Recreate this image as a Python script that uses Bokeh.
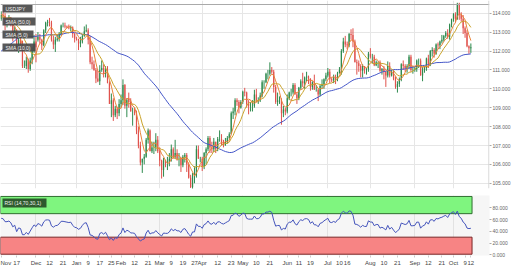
import pandas as pd
from bokeh.plotting import figure
from bokeh.layouts import column
from bokeh.models import Range1d, FixedTicker, PrintfTickFormatter, Span, Label
from bokeh.core.properties import value
from bokeh.embed import file_html
from bokeh.resources import INLINE

# ---------------- data (USDJPY daily, Nov 7 2017 .. Oct 12 2018) ----------------
warmup_closes = [
    109.70, 110.25, 109.95, 110.25, 109.70, 108.75, 109.20, 108.45, 107.85, 109.40,
    110.15, 110.50, 110.25, 110.85, 111.55, 111.60, 112.25, 112.50, 111.95, 111.70,
    111.95, 112.75, 112.30, 112.50, 112.75, 112.85, 112.75, 112.75, 112.60, 112.65,
    112.40, 112.50, 112.30, 111.80, 112.20, 112.20, 112.90, 112.55, 113.50, 113.45,
    113.20, 113.70, 114.10, 113.70, 113.20, 113.65, 113.90, 114.05, 114.05, 113.70,
]

opens = [
    113.70, 113.90, 113.85, 113.50, 113.50, 113.60, 113.40, 112.90, 113.10, 112.10,
    112.60, 112.50, 111.20, 111.20, 111.50, 111.05, 111.50, 112.00, 112.50, 112.60,
    112.75, 112.60, 112.30, 113.10, 113.50, 113.55, 113.50, 112.60, 112.35, 112.60,
    112.65, 112.90, 113.35, 113.35, 113.30, 113.25, 113.20, 113.25, 112.90, 112.65,
    112.60, 112.40, 112.50, 112.80, 113.05, 113.10, 112.60, 111.40, 111.30, 111.00,
    110.55, 110.40, 111.00, 111.10, 110.80, 111.00, 110.30, 109.20, 109.40, 108.60,
    108.95, 108.70, 109.20, 109.40, 110.20, 109.10, 109.50, 109.30, 108.80, 108.80,
    108.70, 107.80, 107.00, 106.10, 106.30, 106.40, 107.30, 107.80, 106.70, 106.90,
    106.90, 107.30, 106.70, 106.20, 105.70, 106.20, 106.10, 106.10, 106.30, 106.80,
    106.40, 106.60, 106.30, 106.30, 105.95, 106.40, 106.50, 106.00, 105.30, 104.80,
    105.40, 105.40, 106.80, 106.30, 106.30, 105.90, 106.60, 106.80, 107.40, 106.90,
    106.80, 107.20, 106.80, 107.35, 107.35, 107.10, 107.00, 107.20, 107.40, 107.60,
    108.70, 108.80, 109.40, 109.30, 109.00, 109.30, 109.85, 109.80, 109.20, 109.10,
    109.10, 109.10, 109.70, 109.40, 109.40, 109.65, 110.35, 110.35, 110.80, 110.80,
    111.00, 110.90, 110.10, 109.30, 109.40, 109.40, 108.70, 108.90, 108.80, 109.50,
    109.80, 109.80, 110.20, 109.70, 109.50, 110.05, 110.40, 110.30, 110.60, 110.65,
    110.55, 110.10, 110.35, 109.95, 109.95, 109.70, 110.15, 110.25, 110.50, 110.70,
    110.90, 110.50, 110.45, 110.60, 110.50, 110.85, 111.00, 112.00, 112.50, 112.35,
    112.30, 112.90, 112.85, 112.50, 111.40, 111.35, 111.20, 110.95, 111.20, 111.05,
    111.05, 111.85, 111.70, 111.70, 111.25, 111.40, 111.40, 110.95, 111.05, 110.90,
    110.70, 111.20, 110.70, 110.90, 110.50, 110.10, 110.25, 110.50, 111.30, 111.20,
    111.10, 111.20, 111.70, 111.00, 111.00, 111.05, 111.50, 111.50, 110.70, 111.00,
    111.10, 111.60, 111.30, 112.00, 112.05, 111.85, 112.35, 112.30, 112.50, 112.60,
    112.80, 112.95, 112.75, 113.40, 113.70, 113.95, 113.70, 114.50, 113.90, 113.70,
    113.20, 112.95, 112.25, 112.15,
]
highs = [
    114.10, 114.10, 114.00, 113.65, 113.90, 113.80, 113.45, 113.30, 113.15, 112.70,
    112.70, 112.55, 111.50, 111.70, 111.60, 111.65, 112.20, 112.85, 112.90, 113.00,
    112.90, 112.65, 113.15, 113.55, 113.65, 113.75, 113.60, 112.80, 112.75, 112.85,
    113.00, 113.40, 113.50, 113.50, 113.35, 113.40, 113.35, 113.30, 112.95, 112.75,
    112.65, 112.75, 112.90, 113.30, 113.40, 113.20, 112.80, 111.70, 111.50, 111.10,
    110.95, 111.25, 111.50, 111.30, 111.20, 111.20, 110.40, 109.75, 109.50, 109.10,
    109.05, 109.45, 109.70, 110.50, 110.25, 109.40, 109.80, 109.50, 109.00, 109.00,
    108.85, 108.00, 107.20, 106.30, 106.55, 107.40, 107.90, 107.85, 107.20, 107.20,
    107.65, 107.50, 106.90, 106.25, 106.35, 106.25, 106.40, 106.60, 107.05, 106.90,
    107.30, 106.80, 106.60, 106.40, 106.50, 106.60, 106.60, 106.10, 105.45, 105.55,
    105.90, 107.00, 107.00, 106.40, 106.40, 106.65, 106.90, 107.50, 107.50, 107.20,
    107.40, 107.20, 107.45, 107.80, 107.60, 107.30, 107.40, 107.50, 107.70, 108.80,
    109.00, 109.50, 109.50, 109.40, 109.40, 109.90, 110.05, 109.85, 109.40, 109.30,
    109.40, 109.95, 110.00, 109.55, 109.80, 110.45, 110.45, 110.85, 111.00, 111.40,
    111.15, 111.00, 110.20, 109.80, 109.60, 109.50, 109.10, 109.00, 109.70, 109.85,
    110.00, 110.30, 110.30, 109.80, 110.10, 110.50, 110.85, 110.65, 110.90, 110.70,
    110.55, 110.40, 110.75, 110.20, 110.00, 110.20, 110.50, 110.55, 110.85, 111.10,
    111.05, 110.60, 110.75, 110.75, 110.90, 111.15, 112.10, 112.70, 112.80, 112.50,
    112.95, 113.15, 113.20, 112.60, 111.55, 111.50, 111.30, 111.30, 111.20, 111.10,
    111.95, 112.15, 111.85, 111.80, 111.50, 111.45, 111.50, 111.10, 111.20, 110.95,
    111.45, 111.40, 111.00, 111.00, 110.65, 110.40, 110.60, 111.35, 111.50, 111.30,
    111.30, 111.80, 111.80, 111.20, 111.15, 111.55, 111.60, 111.60, 111.15, 111.20,
    111.65, 111.80, 112.05, 112.20, 112.15, 112.40, 112.45, 112.55, 112.85, 112.85,
    113.05, 113.15, 113.45, 113.70, 114.00, 114.05, 114.55, 114.55, 114.05, 113.90,
    113.30, 113.10, 112.30, 112.40,
]
lows = [
    113.60, 113.75, 113.10, 113.25, 113.40, 113.30, 112.50, 112.75, 112.00, 111.90,
    112.30, 111.10, 111.10, 111.05, 110.85, 110.95, 111.30, 111.90, 111.40, 112.50,
    112.40, 112.05, 112.25, 112.95, 113.30, 113.30, 112.50, 112.10, 111.95, 112.50,
    112.50, 112.80, 113.25, 113.20, 113.20, 113.15, 113.05, 112.70, 112.45, 112.55,
    112.05, 112.20, 112.40, 112.75, 113.00, 112.35, 111.30, 111.05, 110.95, 110.30,
    110.35, 110.20, 110.90, 110.60, 110.60, 110.30, 109.20, 108.50, 108.30, 108.50,
    108.40, 108.55, 109.00, 109.15, 108.95, 108.50, 109.00, 108.80, 108.05, 108.60,
    107.60, 106.85, 105.95, 105.55, 106.00, 106.35, 107.10, 106.70, 106.60, 106.55,
    106.70, 106.60, 105.90, 105.25, 105.35, 105.85, 105.70, 105.90, 106.15, 106.30,
    106.30, 106.20, 105.90, 105.60, 105.85, 106.10, 105.60, 105.25, 104.75, 104.70,
    105.00, 105.30, 106.30, 106.10, 105.65, 105.75, 106.00, 106.70, 106.60, 106.60,
    106.65, 106.60, 106.70, 107.20, 107.00, 106.90, 107.00, 107.10, 107.30, 107.60,
    108.40, 108.60, 109.10, 108.70, 108.95, 109.20, 109.60, 109.00, 108.65, 108.80,
    108.80, 109.00, 109.30, 109.20, 109.30, 109.55, 110.00, 110.30, 110.50, 110.70,
    110.80, 109.80, 109.20, 109.10, 109.20, 108.10, 108.50, 108.60, 108.70, 109.40,
    109.60, 109.70, 109.70, 109.20, 109.40, 109.95, 110.10, 110.00, 110.40, 110.25,
    109.90, 109.95, 109.95, 109.85, 109.35, 109.60, 110.00, 110.00, 110.40, 110.60,
    110.30, 110.35, 110.30, 110.25, 110.40, 110.80, 110.75, 111.90, 112.20, 112.10,
    112.20, 112.60, 112.20, 111.40, 110.75, 110.90, 110.60, 110.60, 110.80, 110.75,
    110.90, 111.60, 111.35, 111.20, 111.20, 111.10, 110.90, 110.75, 110.50, 110.10,
    110.60, 110.60, 110.65, 110.45, 110.00, 109.80, 110.10, 110.40, 111.00, 110.90,
    110.85, 111.05, 110.90, 110.80, 110.90, 110.90, 111.10, 110.70, 110.40, 110.85,
    110.95, 111.10, 111.20, 111.70, 111.65, 111.80, 112.10, 112.10, 112.40, 112.50,
    112.70, 112.65, 112.60, 113.25, 113.55, 113.50, 113.65, 113.65, 113.55, 112.90,
    112.70, 112.20, 111.85, 111.90,
]
closes = [
    113.90, 113.85, 113.50, 113.50, 113.60, 113.40, 112.90, 113.10, 112.10, 112.60,
    112.50, 111.20, 111.20, 111.50, 111.05, 111.50, 112.00, 112.50, 112.20, 112.75,
    112.60, 112.30, 113.10, 113.50, 113.55, 113.50, 112.60, 112.35, 112.60, 112.65,
    112.90, 113.35, 113.35, 113.30, 113.25, 113.20, 113.25, 112.90, 112.65, 112.60,
    112.40, 112.50, 112.80, 113.05, 113.10, 112.60, 111.40, 111.30, 111.00, 110.55,
    110.40, 111.00, 111.10, 110.80, 111.00, 110.30, 109.20, 109.40, 108.60, 108.95,
    108.70, 109.20, 109.40, 110.20, 109.10, 109.50, 109.30, 108.80, 108.80, 108.70,
    107.80, 107.00, 106.10, 106.30, 106.40, 107.30, 107.80, 106.70, 106.90, 106.90,
    107.30, 106.70, 106.20, 105.70, 106.20, 106.10, 106.10, 106.30, 106.80, 106.40,
    106.60, 106.30, 106.30, 105.95, 106.40, 106.50, 106.00, 105.30, 104.80, 105.40,
    105.40, 106.80, 106.30, 106.30, 105.90, 106.60, 106.80, 107.40, 106.90, 106.80,
    107.20, 106.80, 107.35, 107.35, 107.10, 107.00, 107.20, 107.40, 107.60, 108.70,
    108.80, 109.40, 109.30, 109.00, 109.30, 109.85, 109.80, 109.20, 109.10, 109.10,
    109.10, 109.70, 109.40, 109.40, 109.65, 110.35, 110.35, 110.80, 110.80, 111.00,
    110.90, 110.10, 109.30, 109.40, 109.40, 108.70, 108.90, 108.80, 109.50, 109.80,
    109.80, 110.20, 109.70, 109.50, 110.05, 110.40, 110.30, 110.60, 110.65, 110.55,
    110.10, 110.35, 109.95, 109.95, 109.70, 110.15, 110.25, 110.50, 110.70, 110.90,
    110.50, 110.45, 110.60, 110.50, 110.85, 111.00, 112.00, 112.50, 112.35, 112.30,
    112.90, 112.85, 112.50, 111.40, 111.35, 111.20, 110.95, 111.20, 111.05, 111.05,
    111.85, 111.70, 111.70, 111.25, 111.40, 111.40, 110.95, 111.05, 110.90, 110.70,
    111.20, 110.70, 110.90, 110.50, 110.10, 110.25, 110.50, 111.30, 111.20, 111.10,
    111.20, 111.70, 111.00, 111.00, 111.05, 111.50, 111.50, 110.70, 111.00, 111.10,
    111.60, 111.30, 112.00, 112.05, 111.85, 112.35, 112.30, 112.50, 112.60, 112.80,
    112.95, 112.75, 113.40, 113.70, 113.95, 113.70, 114.50, 113.90, 113.70, 113.20,
    112.95, 112.25, 112.15, 112.20,
]

tick_idx = [0, 8, 18, 25, 32, 39, 45, 51, 57, 62, 69, 76, 82, 88, 94, 100, 104, 112,
            119, 125, 132, 139, 148, 154, 160, 169, 175, 179, 191, 198, 205, 214, 221,
            228, 234, 240, 243]
tick_labels = ["Nov", "17", "Dec", "12", "21", "Jan", "9", "17", "25", "Feb", "12", "21",
               "Mar", "9", "19", "27", "Apr", "12", "23", "May", "10", "21", "Jun", "11",
               "19", "Jul", "10", "16", "Aug", "10", "21", "Sep", "12", "21", "Oct", "9", "12"]
month_idx = [18, 39, 62, 82, 104, 125, 148, 169, 191, 214, 234]
price_ticks = [105, 106, 107, 108, 109, 110, 111, 112, 113, 114]
rsi_ticks = [0, 20, 40, 60, 80]

# ---------------- indicators ----------------
N = len(closes)
idx = list(range(N))
allc = pd.Series(warmup_closes + closes)
sma5 = allc.rolling(5).mean().values[-N:]
sma10 = allc.rolling(10).mean().values[-N:]
sma50 = allc.rolling(50).mean().values[-N:]
d = allc.diff()
g = d.clip(lower=0).ewm(alpha=1 / 14, adjust=False).mean()
l = (-d.clip(upper=0)).ewm(alpha=1 / 14, adjust=False).mean()
rsi = (100 - 100 / (1 + g / l)).values[-N:]

UP, DN = "#2e8a4e", "#e0524d"
cols = [UP if c >= o else DN for o, c in zip(opens, closes)]
tops = [max(o, c) for o, c in zip(opens, closes)]
bots = [min(o, c) for o, c in zip(opens, closes)]

# ---------------- main price panel ----------------
FW, FH = 489, 188
PXU = 1.9328          # pixels per trading day
X0 = -0.363
X1 = X0 + FW / PXU
Y0, Y1 = 104.725, 114.672
FONT = value("Liberation Sans")


def dx(px):
    return X0 + px / FW * (X1 - X0)


def dy(py):
    return Y1 - py / FH * (Y1 - Y0)


def style_right_axis(ax, ticks):
    ax.ticker = FixedTicker(ticks=ticks)
    ax.formatter = PrintfTickFormatter(format="%.3f")
    ax.axis_line_color = None
    ax.major_tick_out = 2
    ax.major_tick_in = 0
    ax.major_tick_line_color = "#aaaaaa"
    ax.minor_tick_line_color = None
    ax.major_label_standoff = 1
    ax.major_label_text_font_size = "5px"
    ax.major_label_text_color = "#666666"
    ax.major_label_text_font = "Liberation Sans"


p = figure(frame_width=FW, frame_height=FH, x_range=Range1d(X0, X1), y_range=Range1d(Y0, Y1),
           output_backend="svg", toolbar_location=None, x_axis_location=None,
           y_axis_location="right", min_border_left=0, min_border_top=0,
           min_border_bottom=6, min_border_right=0, outline_line_color=None,
           background_fill_color="white", border_fill_color="white")
p.ygrid.ticker = FixedTicker(ticks=price_ticks)
p.xgrid.ticker = FixedTicker(ticks=month_idx)
p.grid.grid_line_color = "#e6e6e6"
style_right_axis(p.yaxis[0], price_ticks)

p.add_layout(Span(location=114.46, dimension="width", line_color="#aaaaaa", line_width=1))
p.add_layout(Span(location=X1 - 0.3, dimension="height", line_color="#d0d0d0", line_width=1))

p.segment(x0=idx, y0=lows, x1=idx, y1=highs, line_color=cols, line_width=1)
p.vbar(x=idx, top=tops, bottom=bots, width=0.62, fill_color=cols, line_color=None)

p.line(idx, sma50, line_color="#4456c8", line_width=1)
p.line(idx, sma10, line_color="#c9a22a", line_width=1)
p.line(idx, sma5, line_color="#e8843a", line_width=1)

boxes = [("USDJPY", 2, 32, 4, 12), ("SMA (50,0)", 2, 35, 17, 25),
         ("SMA (5,0)", 2, 33, 30, 38), ("SMA (10,0)", 2, 35, 43, 51)]
for t, l0, r0, t0, b0 in boxes:
    p.quad(left=[dx(l0)], right=[dx(r0)], top=[dy(t0)], bottom=[dy(b0)],
           fill_color="#4a4a4a", fill_alpha=0.92, line_color=None)
    p.text(x=[dx(l0 + 3)], y=[dy((t0 + b0) / 2)], text=[t], text_font=FONT,
           text_font_size="5px", text_color="#f2f2f2", text_baseline="middle",
           text_align="left")

p.add_layout(Label(x=dx(246), y=Y0, y_offset=-4, text="▬", text_font_size="6px",
                   text_color="#b0b0b0", text_align="center", text_baseline="middle"))

# ---------------- RSI panel ----------------
RH = 60
RY0, RY1 = -1.2, 100.9


def ry(py):
    return RY1 - py / RH * (RY1 - RY0)


r = figure(frame_width=FW, frame_height=RH, x_range=p.x_range, y_range=Range1d(RY0, RY1),
           output_backend="svg", toolbar_location=None, y_axis_location="right",
           min_border_left=0, min_border_top=1, min_border_bottom=12, min_border_right=0,
           outline_line_color=None, background_fill_color="#f6f6f6",
           border_fill_color="white")
r.ygrid.grid_line_color = None
r.xgrid.ticker = FixedTicker(ticks=month_idx)
r.xgrid.grid_line_color = "#e2e2e2"

r.quad(left=[X0], right=[243.6], bottom=[70], top=[99.3], fill_color="#7ff57f",
       line_color="#2f6e2f", line_width=1)
r.quad(left=[X0], right=[243.6], bottom=[1.0], top=[30], fill_color="#f78484",
       line_color="#7a2626", line_width=1)
r.line(idx, rsi, line_color="#4454bb", line_width=1)

r.quad(left=[dx(2)], right=[dx(46)], top=[ry(3)], bottom=[ry(12)],
       fill_color="#2d5a2d", line_color=None)
r.text(x=[dx(4)], y=[ry(7.5)], text=["RSI (14,70,30,1)"], text_font=FONT,
       text_font_size="5px", text_color="#f2f2f2", text_baseline="middle", text_align="left")

style_right_axis(r.yaxis[0], rsi_ticks)

r.xaxis.ticker = FixedTicker(ticks=tick_idx)
r.xaxis.major_label_overrides = {i: s for i, s in zip(tick_idx, tick_labels)}
r.xaxis.axis_line_color = None
r.xaxis.major_tick_out = 2
r.xaxis.major_tick_in = 0
r.xaxis.major_tick_line_color = "#cccccc"
r.xaxis.minor_tick_line_color = None
r.xaxis.major_label_standoff = 2
r.xaxis.major_label_text_font_size = "6px"
r.xaxis.major_label_text_color = "#444444"
r.xaxis.major_label_text_font = "Liberation Sans"

layout = column(p, r, spacing=0)
open("out.html", "w").write(file_html(layout, INLINE))
